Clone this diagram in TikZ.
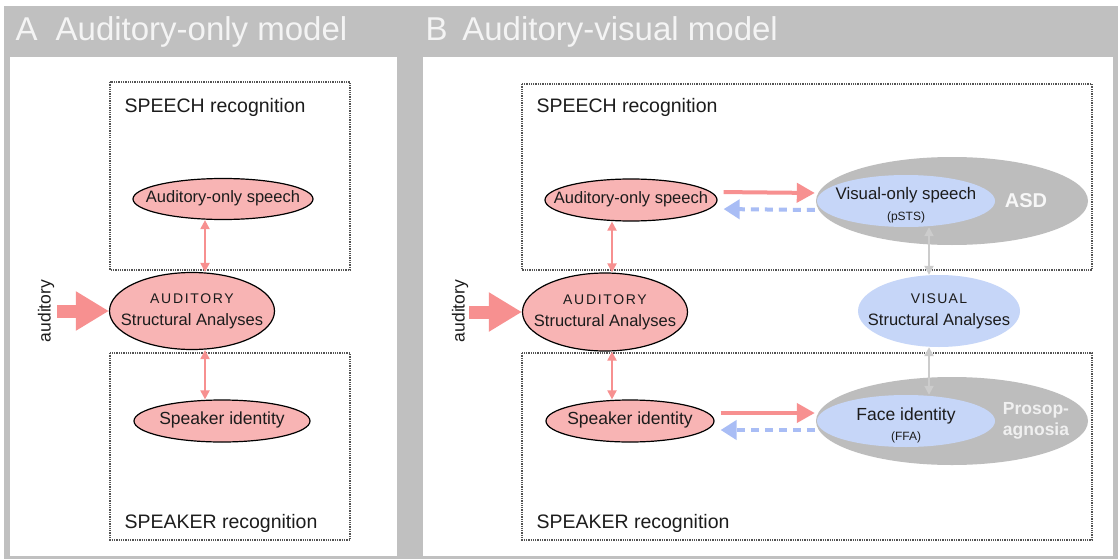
\documentclass[tikz,border=0pt]{standalone}
\usepackage{fontspec}
\setmainfont{Liberation Sans}
\usetikzlibrary{arrows.meta,shapes.geometric}

\definecolor{panelgray}{HTML}{C0C0C0}
\definecolor{headtext}{HTML}{F4F4F4}
\definecolor{pinkfill}{HTML}{F8B4B4}
\definecolor{arrowpink}{HTML}{F79090}
\definecolor{bluefill}{HTML}{C6D6F8}
\definecolor{arrowblue}{HTML}{A9BDF5}
\definecolor{ellgray}{HTML}{BDBDBD}
\definecolor{lightarrow}{HTML}{CCCCCC}
\definecolor{inktext}{HTML}{1C1C1C}

\newcommand{\setfs}[1]{\fontsize{#1}{#1}\selectfont}
% text that does not stretch its ellipse
\newcommand{\inell}[1]{\makebox[0pt]{\begin{tabular}{@{}c@{}}#1\end{tabular}}}

\tikzset{
  recbox/.style={draw=gray!65!black, densely dotted, line width=1.3pt},
  pinkell/.style={ellipse, draw=black, line width=1.2pt, fill=pinkfill, inner sep=0pt,
    text=inktext, font=\setfs{17.5}},
  blueell/.style={ellipse, fill=bluefill, inner sep=0pt, text=inktext, font=\setfs{17.5}},
  grayell/.style={ellipse, fill=ellgray, inner sep=0pt},
  pinkdbl/.style={{Triangle[length=9pt,width=9pt]}-{Triangle[length=9pt,width=9pt]},
    draw=arrowpink, line width=2pt},
  graydbl/.style={{Triangle[length=9pt,width=9pt]}-{Triangle[length=9pt,width=9pt]},
    draw=lightarrow, line width=2pt},
  inarrow/.style={-{Triangle[length=33pt,width=37pt]}, draw=arrowpink, line width=13pt},
  fwdarrow/.style={-{Triangle[length=18pt,width=19pt]}, draw=arrowpink, line width=4pt},
  backarrow/.style={-{Triangle[length=16pt,width=19pt]}, draw=arrowblue, line width=4pt,
    dash pattern=on 8pt off 6pt},
  reclabel/.style={anchor=base west, text=inktext, font=\setfs{19.5}},
  headlabel/.style={anchor=base west, text=headtext, font=\setfs{33}},
}

\begin{document}
\begin{tikzpicture}[x=1pt, y=-1pt]
\useasboundingbox (0,0) rectangle (1118,559);

% --- frame and panels ---
\fill[white] (0,0) rectangle (1118,559);
\fill[panelgray] (4,6) rectangle (1118,559);
\fill[white] (10,57) rectangle (397,556);
\fill[white] (423,57) rectangle (1113,556);

\node[headlabel] (headA) at (12,41) {A\hspace{0.55em}Auditory-only model};
\node[headlabel] (headB) at (422,41) {B\hspace{0.45em}Auditory-visual model};

% --- Panel A: auditory-only model ---
\draw[recbox] (110,82) rectangle (350,270);
\draw[recbox] (110,353) rectangle (350,540);
\node[reclabel] (speechA) at (121,113) {SPEECH recognition};
\node[reclabel] (speakerA) at (121,528) {SPEAKER recognition};

\node[pinkell, minimum width=180, minimum height=41] (aoA) at (223,199)
  {\inell{\setfs{16.5}Auditory-only speech}};
\node[pinkell, minimum width=165, minimum height=77] (audA) at (192,311)
  {\inell{{\setfs{14}\addfontfeature{LetterSpace=12}AUDITORY}\\[4pt]{\setfs{16.5}Structural Analyses}}};
\node[pinkell, minimum width=176, minimum height=42] (spkA) at (222,421)
  {\inell{Speaker identity}};

\node[rotate=90, text=inktext, font=\setfs{17.5}] (inA) at (46,311) {auditory};
\coordinate (srcA) at (57,311);
\draw[inarrow] (srcA) -- (audA.west);

\coordinate (colA) at (205,0);
\draw[pinkdbl] (aoA.south -| colA) -- (audA.north -| colA);
\draw[pinkdbl] (audA.south -| colA) -- (spkA.north -| colA);

% --- Panel B: auditory-visual model ---
\draw[recbox] (522,84) rectangle (1092,270);
\draw[recbox] (522,353) rectangle (1092,540);
\node[reclabel] (speechB) at (533,113) {SPEECH recognition};
\node[reclabel] (speakerB) at (533,528) {SPEAKER recognition};

% lesion areas behind the visual nodes
\node[grayell, minimum width=272, minimum height=88] (asd) at (952,201) {};
\node[grayell, minimum width=272, minimum height=88] (prosop) at (952,421) {};
\node[text=white!94!gray, font=\bfseries\setfs{20}] (asdlab) at (1026,201) {ASD};
\node[text=white!88!gray, font=\bfseries\setfs{17.5}, align=center] (proslab) at (1036,421)
  {Prosop-\\[4pt]agnosia};

\node[pinkell, minimum width=172, minimum height=42] (aoB) at (631,200)
  {\inell{\setfs{16.5}Auditory-only speech}};
\node[pinkell, minimum width=165, minimum height=78] (audB) at (605,312)
  {\inell{{\setfs{14}\addfontfeature{LetterSpace=12}AUDITORY}\\[4pt]{\setfs{16.5}Structural Analyses}}};
\node[pinkell, minimum width=168, minimum height=42] (spkB) at (630,421)
  {\inell{Speaker identity}};

\node[blueell, minimum width=178, minimum height=52] (vos) at (906,201)
  {\raisebox{-10pt}[0pt][0pt]{\inell{{\setfs{16.8}Visual-only speech}\\[3pt]{\setfs{12}(pSTS)}}}};
\node[blueell, minimum width=162, minimum height=72] (visB) at (939,311)
  {\inell{{\setfs{14}\addfontfeature{LetterSpace=9}VISUAL}\\[4pt]{\setfs{16.5}Structural Analyses}}};
\node[blueell, minimum width=178, minimum height=52] (face) at (906,421)
  {\raisebox{-10pt}[0pt][0pt]{\inell{Face identity\\[3pt]{\setfs{12}(FFA)}}}};

\node[rotate=90, text=inktext, font=\setfs{17.5}] (inB) at (460,311) {auditory};
\coordinate (srcB) at (469,312);
\draw[inarrow] (srcB) -- (audB.west);

\coordinate (colB) at (612,0);
\draw[pinkdbl] (aoB.south -| colB) -- (audB.north -| colB);
\draw[pinkdbl] (audB.south -| colB) -- (spkB.north -| colB);

\coordinate (colV) at (929,0);
\draw[graydbl] (vos.south -| colV) -- (visB.north -| colV);
\draw[graydbl] (visB.south -| colV) -- (face.north -| colV);

% auditory <-> visual links
\draw[fwdarrow, shorten <=6pt, shorten >=2pt] ([yshift=8]aoB.east) -- ([yshift=8]vos.west);
\draw[backarrow, shorten <=2pt, shorten >=6pt] ([yshift=-9]vos.west) -- ([yshift=-9]aoB.east);
\draw[fwdarrow, shorten <=6pt, shorten >=2pt] ([yshift=8]spkB.east) -- ([yshift=8]face.west);
\draw[backarrow, shorten <=2pt, shorten >=6pt] ([yshift=-9]face.west) -- ([yshift=-9]spkB.east);

\end{tikzpicture}
\end{document}
